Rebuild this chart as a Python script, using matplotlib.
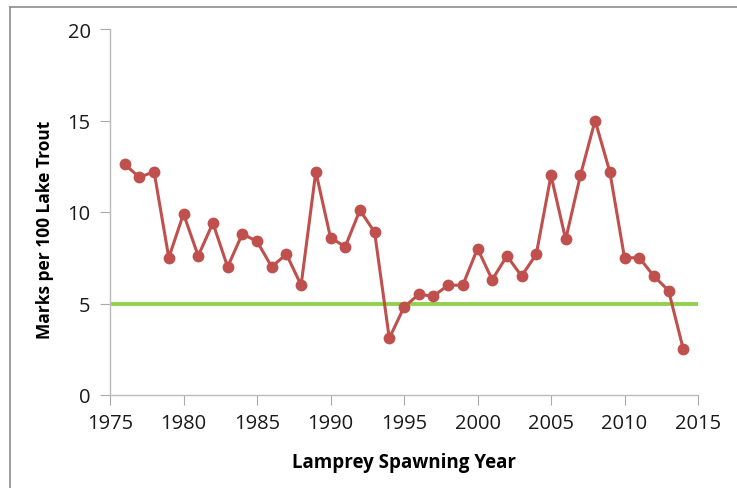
import matplotlib
matplotlib.use("Agg")
import matplotlib.pyplot as plt
from matplotlib.lines import Line2D

years = list(range(1976, 2015))
marks = [12.6, 11.9, 12.2, 7.5, 9.9, 7.6, 9.4, 7.0, 8.8, 8.4,
         7.0, 7.7, 6.0, 12.2, 8.6, 8.1, 10.1, 8.9, 3.1, 4.8,
         5.5, 5.4, 6.0, 6.0, 8.0, 6.3, 7.6, 6.5, 7.7, 12.0,
         8.5, 12.0, 15.0, 12.2, 7.5, 7.5, 6.5, 5.7, 2.5]
target = 5
xticks = [1975, 1980, 1985, 1990, 1995, 2000, 2005, 2010, 2015]
yticks = [0, 5, 10, 15, 20]

plt.rcParams['font.family'] = ['Open Sans', 'DejaVu Sans']

W, H = 737, 489
fig = plt.figure(figsize=(W/100, H/100), dpi=100)
# outer frame (top and left edges visible)
fig.lines.append(Line2D([10/W, 10/W], [0, 1-8/H], transform=fig.transFigure,
                        color='#8c8c8c', linewidth=1.2))
fig.lines.append(Line2D([10/W, 1], [1-8/H, 1-8/H], transform=fig.transFigure,
                        color='#8c8c8c', linewidth=1.2))
ax = fig.add_axes([110/W, 1-396/H, (698-110)/W, (396-30)/H])

ax.plot([1975, 2015], [target, target], color='#92D050', linewidth=2.8, zorder=2)
ax.plot(years, marks, color='#C0504D', linewidth=2.2, marker='o', markersize=8.5,
        markeredgewidth=0, zorder=3)

ax.set_xlim(1975, 2015)
ax.set_ylim(0, 20)
ax.set_xticks(xticks)
ax.set_yticks(yticks)
for s in ['top', 'right']:
    ax.spines[s].set_visible(False)
for s in ['left', 'bottom']:
    ax.spines[s].set_color('#BBBBBB')
    ax.spines[s].set_linewidth(1.0)
ax.tick_params(axis='both', direction='out', length=7, color='#AAAAAA', labelsize=14.5, labelcolor='#1a1a1a')
ax.tick_params(axis='y', pad=7)
ax.tick_params(axis='x', pad=6)
ax.set_xlabel('Lamprey Spawning Year', fontsize=13.5, fontweight='bold')
ax.set_ylabel('Marks per 100 Lake Trout', fontsize=12.5, fontweight='bold')
ax.xaxis.set_label_coords(0.5, (396-463)/366, transform=ax.transAxes)
ax.xaxis.label.set_va('center')
ax.yaxis.set_label_coords((45-110)/588, (396-230)/366, transform=ax.transAxes)
ax.yaxis.label.set_va('center')

fig.savefig('out.png', dpi=100)
